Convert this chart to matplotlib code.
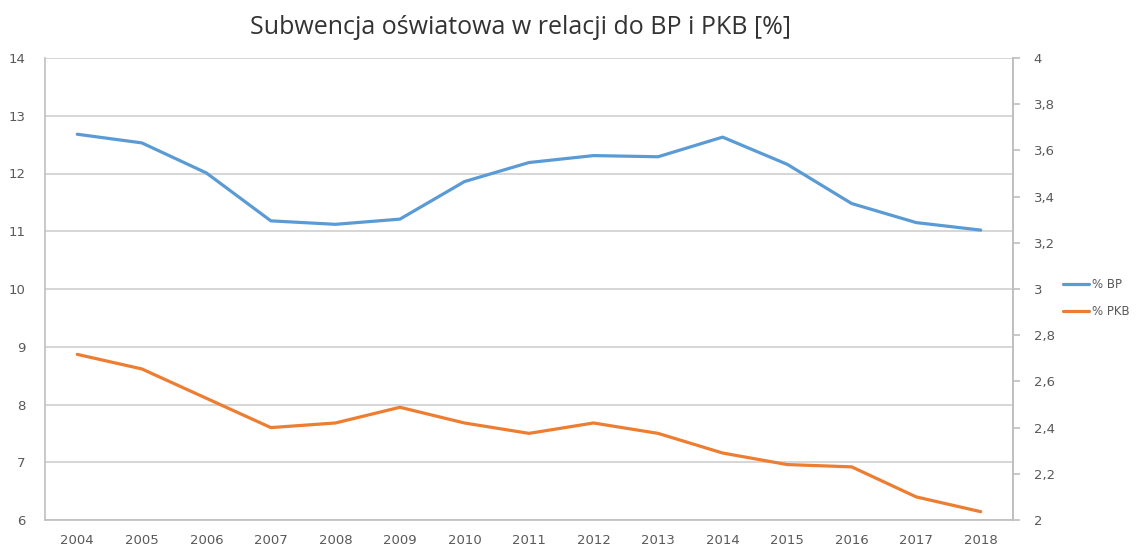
import matplotlib
matplotlib.use("Agg")
import matplotlib.pyplot as plt
from matplotlib.ticker import FuncFormatter

years = [str(y) for y in range(2004, 2019)]
bp = [12.68, 12.53, 12.01, 11.18, 11.12, 11.21, 11.86, 12.19, 12.31, 12.29,
      12.63, 12.16, 11.48, 11.15, 11.02]
pkb = [2.717, 2.654, 2.527, 2.40, 2.42, 2.488, 2.42, 2.375, 2.42, 2.375,
       2.29, 2.24, 2.23, 2.10, 2.036]

title = "Subwencja oświatowa w relacji do BP i PKB [%]"
gray = "#595959"
axis_col = "#BFBFBF"

fig = plt.figure(figsize=(11.37, 5.47), dpi=100)
ax = fig.add_axes([45 / 1137, 1 - 520 / 547, (1013 - 45) / 1137, (520 - 58) / 547])
ax2 = ax.twinx()

x = range(len(years))
l1, = ax.plot(x, bp, color="#5B9BD5", lw=2.3, label="% BP", solid_capstyle="round")
l2, = ax2.plot(x, pkb, color="#ED7D31", lw=2.3, label="% PKB", solid_capstyle="round")

ax.set_xlim(-0.5, len(years) - 0.5)
ax.set_ylim(6, 14)
ax.set_yticks(range(6, 15))
ax2.set_ylim(2, 4)
ax2.set_yticks([2 + 0.2 * i for i in range(11)])
ax2.yaxis.set_major_formatter(FuncFormatter(lambda v, p: f"{v:g}".replace(".", ",")))
ax.set_xticks(list(x))
ax.set_xticklabels(years)

ax.grid(axis="y", color="#D0D0D0", lw=1.2)
ax.set_axisbelow(True)
for a in (ax, ax2):
    for s in a.spines.values():
        s.set_color(axis_col)
        s.set_linewidth(1.2)
    a.spines["top"].set_visible(False)
ax2.spines["left"].set_visible(False)
ax2.spines["bottom"].set_visible(False)

ax.tick_params(axis="y", length=0, pad=14, labelsize=9.5, labelcolor=gray)
ax.tick_params(axis="x", length=0, pad=10, labelsize=9.5, labelcolor=gray)
ax2.tick_params(axis="y", length=5, width=1.2, color=axis_col, pad=10,
                labelsize=9.5, labelcolor=gray)

fig.text(520 / 1137, 1 - 27 / 547, title, ha="center", va="center",
         fontsize=18, color="#333333", family="Open Sans")

fig.legend(handles=[l1, l2], loc="center left", bbox_to_anchor=(1063 / 1137, 1 - 298 / 547),
           frameon=False, fontsize=8.5, handlelength=2.2, handletextpad=0.25,
           labelspacing=1.2, labelcolor=gray, borderaxespad=0, borderpad=0)

fig.savefig("out.png", dpi=100)
